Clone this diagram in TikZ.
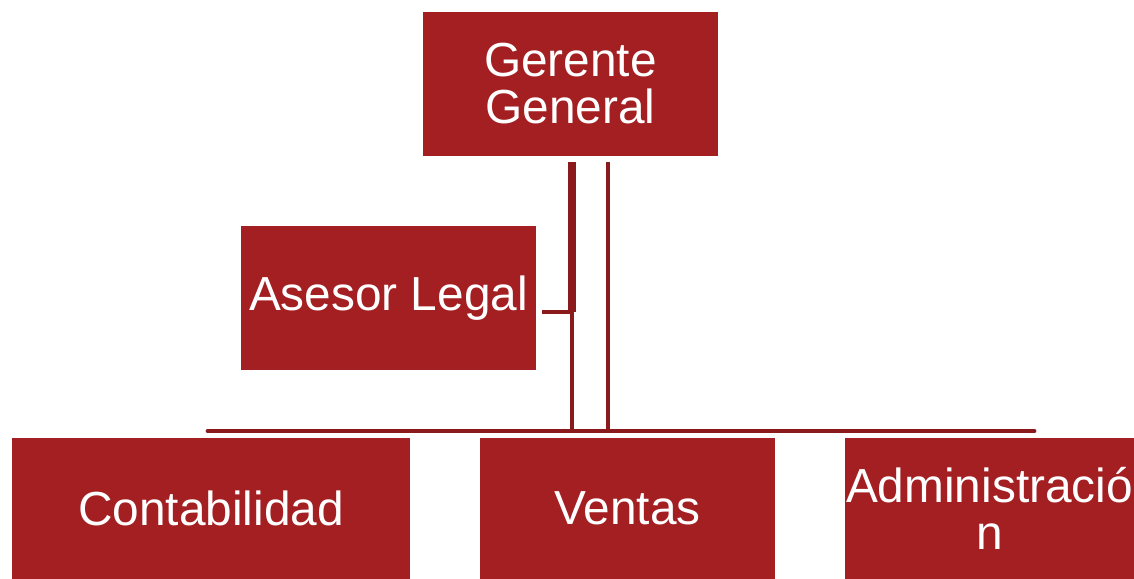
\documentclass[tikz,border=0pt]{standalone}
\usepackage{fontspec}
\setmainfont{Liberation Sans}
\usepackage{tikz}
\usetikzlibrary{positioning, calc}
\definecolor{boxred}{HTML}{A31F22}
\definecolor{linered}{HTML}{8B1A1C}

\begin{document}
\begin{tikzpicture}[
    block/.style={rectangle, fill=boxred, text=white, inner sep=0pt, align=center,
        minimum width=7.375cm, minimum height=3.6cm,
        font=\fontsize{34}{33.5}\selectfont},
    link/.style={draw=linered, line width=3.5pt},
    trunk/.style={draw=linered, line width=5.6pt}
]
    \useasboundingbox (0,0) rectangle (28.35,-14.475);

    % Blocks
    \node[block] (gerente) at (14.2625,-2.1) {Gerente\\General};
    \node[block] (asesor) at (9.7125,-7.45) {Asesor Legal};
    \node[block, minimum width=9.95cm, minimum height=3.525cm] (conta) at (5.275,-12.7125) {Contabilidad};
    \node[block, minimum height=3.525cm] (ventas) at (15.6875,-12.7125) {Ventas};
    \node[block, minimum width=7.225cm, minimum height=3.525cm] (admin) at (24.7375,-12.7125) {Administraci\'o\\n};

    % Junctions
    \coordinate (top1) at (14.3,-4.05);
    \coordinate (top2) at (15.2,-4.05);
    \coordinate (mid1) at (14.3,-7.8);
    \coordinate (busl) at (5.2,-10.775);
    \coordinate (busr) at (25.85,-10.775);
    \coordinate (bus1) at (14.3,-10.775);
    \coordinate (bus2) at (15.2,-10.775);

    % Lines
    \draw[trunk] (top1) -- (mid1);
    \draw[link] (mid1) -- (bus1);
    \draw[link] (top2) -- (bus2);
    \draw[link] ([xshift=0.15cm]asesor.east |- mid1) -- (mid1);
    \draw[link, line cap=round] (busl) -- (busr);

\end{tikzpicture}
\end{document}
